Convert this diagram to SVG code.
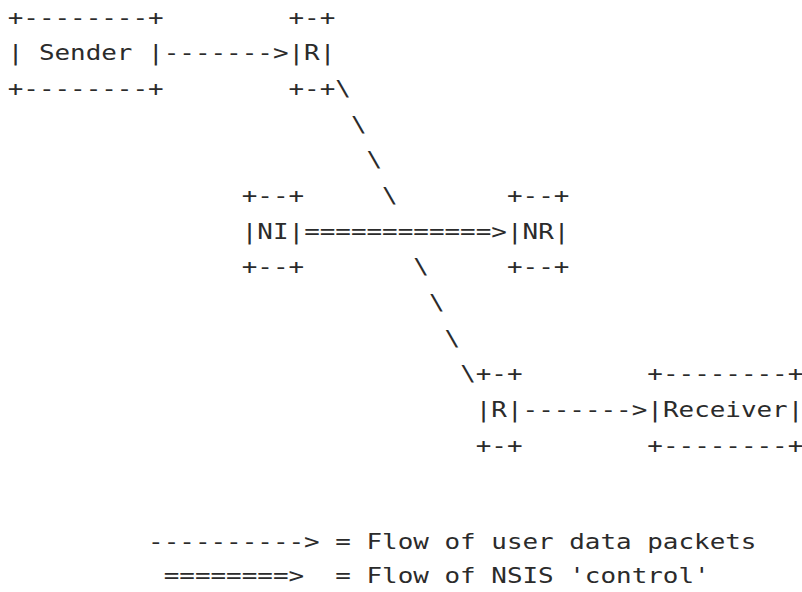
<svg xmlns="http://www.w3.org/2000/svg" width="802" height="592" viewBox="0 0 802 592">
<style>
text{font-family:"DejaVu Sans Mono","Liberation Mono",monospace;font-size:21px;fill:#2b2b2b;white-space:pre}
</style>
<rect width="802" height="592" fill="#ffffff"/>
<g transform="scale(1.234 1)">
<g id="sender">
<text x="6.24" y="24.6">+--------+</text>
<text x="6.24" y="60.3">| Sender |</text>
<text x="6.24" y="95.9">+--------+</text>
</g>
<g id="r1">
<text x="233.81" y="24.6">+-+</text>
<text x="233.81" y="60.3">|R|</text>
<text x="233.81" y="95.9">+-+</text>
</g>
<g id="ni">
<text x="195.89" y="203">+--+</text>
<text x="195.89" y="238.6">|NI|</text>
<text x="195.89" y="274.3">+--+</text>
</g>
<g id="nr">
<text x="410.82" y="203">+--+</text>
<text x="410.82" y="238.6">|NR|</text>
<text x="410.82" y="274.3">+--+</text>
</g>
<g id="r2">
<text x="385.53" y="381.3">+-+</text>
<text x="385.53" y="417">|R|</text>
<text x="385.53" y="452.6">+-+</text>
</g>
<g id="receiver">
<text x="524.6" y="381.3">+--------+</text>
<text x="524.6" y="417">|Receiver|</text>
<text x="524.6" y="452.6">+--------+</text>
</g>
<g id="connectors">
<text x="132.67" y="60.3">-------&gt;</text>
<text x="271.74" y="95.9">\</text>
<text x="284.39" y="131.6">\</text>
<text x="297.03" y="167.3">\</text>
<text x="309.67" y="203">\</text>
<text x="246.46" y="238.6">============&gt;</text>
<text x="334.96" y="274.3">\</text>
<text x="347.6" y="310">\</text>
<text x="360.24" y="345.6">\</text>
<text x="372.89" y="381.3">\</text>
<text x="423.46" y="417">-------&gt;</text>
</g>
<g id="legend">
<text x="120.03" y="549">----------&gt;</text>
<text x="271.74" y="549">= Flow of user data packets</text>
<text x="132.67" y="583">========&gt;</text>
<text x="271.74" y="583">= Flow of NSIS 'control'</text>
</g>
</g>
</svg>
